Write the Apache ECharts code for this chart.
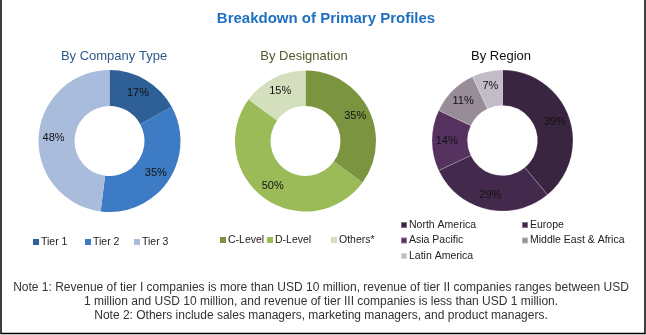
<!DOCTYPE html>
<html>
<head>
<meta charset="utf-8">
<script src="https://cdn.jsdelivr.net/npm/echarts@6/dist/echarts.min.js"></script>
<style>
  html, body { margin: 0; padding: 0; background: #ffffff; }
  #main { width: 646px; height: 335px; }
</style>
</head>
<body>
<div id="main"></div>
<script>
// data
var companyNames = ['Tier 1', 'Tier 2', 'Tier 3'];
var companyValues = [17, 35, 48];
var designationNames = ['C-Level', 'D-Level', 'Others*'];
var designationValues = [35, 50, 15];
var regionNames = ['North America', 'Europe', 'Asia Pacific', 'Middle East & Africa', 'Latin America'];
var regionValues = [39, 29, 14, 11, 7];

var companyColors = ['#2e5f97', '#3d7cc4', '#a9bcdc'];
var designationColors = ['#7a9440', '#9bbb59', '#d3dfbd'];
var regionColors = ['#3a2540', '#43294b', '#55325f', '#978c98', '#c2bcc6'];

var noteLines = [
  'Note 1: Revenue of tier I companies is more than USD 10 million, revenue of tier II companies ranges between USD',
  '1 million and USD 10 million, and revenue of tier III companies is less than USD 1 million.',
  'Note 2: Others include sales managers, marketing managers, and product managers.'
];

function pieData(names, values, colors) {
  var out = [];
  for (var i = 0; i < names.length; i++) {
    out.push({ name: names[i], value: values[i], itemStyle: { color: colors[i] } });
  }
  return out;
}

function legendItems(names, widths) {
  var out = [];
  for (var i = 0; i < names.length; i++) {
    var it = { name: names[i] };
    if (widths) it.textStyle = { width: widths[i] };
    out.push(it);
  }
  return out;
}

var labelStyle = {
  show: true,
  position: 'inside',
  formatter: '{c}%',
  color: '#111',
  fontSize: 11,
  fontFamily: 'Liberation Sans'
};

var legendText = { color: '#222', fontSize: 10.5, fontFamily: 'Liberation Sans', lineHeight: 12,
  padding: [0, 0, 0, -3] };

var chart = echarts.init(document.getElementById('main'));

var option = {
  animation: false,
  title: [
    { text: 'Breakdown of Primary Profiles', left: 321, top: 6, textAlign: 'center',
      textStyle: { color: '#1f70c1', fontSize: 15, fontWeight: 'bold', fontFamily: 'Liberation Sans' } },
    { text: 'By Company Type', left: 109, top: 45, textAlign: 'center',
      textStyle: { color: '#2f5a8a', fontSize: 13, fontWeight: 'normal', fontFamily: 'Liberation Sans' } },
    { text: 'By Designation', left: 299, top: 45, textAlign: 'center',
      textStyle: { color: '#4e5b2a', fontSize: 13, fontWeight: 'normal', fontFamily: 'Liberation Sans' } },
    { text: 'By Region', left: 496, top: 45, textAlign: 'center',
      textStyle: { color: '#111', fontSize: 13, fontWeight: 'normal', fontFamily: 'Liberation Sans' } }
  ],
  legend: [
    { left: 33, top: 236, padding: 0, itemGap: 0, itemWidth: 6, itemHeight: 6, icon: 'rect',
      selectedMode: false, textStyle: legendText,
      data: legendItems(companyNames, [44, 41, 40]) },
    { left: 220, top: 234, padding: 0, itemGap: 0, itemWidth: 6, itemHeight: 6, icon: 'rect',
      selectedMode: false, textStyle: legendText,
      data: legendItems(designationNames, [39, 56, 50]) },
    { left: 400, top: 219, padding: 0, orient: 'vertical', itemGap: 3.5, itemWidth: 6, itemHeight: 6, icon: 'rect',
      selectedMode: false, textStyle: legendText,
      data: legendItems([regionNames[0], regionNames[2], regionNames[4]]) },
    { left: 521, top: 219, padding: 0, orient: 'vertical', itemGap: 3.5, itemWidth: 6, itemHeight: 6, icon: 'rect',
      selectedMode: false, textStyle: legendText,
      data: legendItems([regionNames[1], regionNames[3]]) }
  ],
  series: [
    { type: 'pie', center: [109.5, 141], radius: [35, 71], startAngle: 90, clockwise: true,
      label: labelStyle, labelLine: { show: false }, silent: true,
      data: pieData(companyNames, companyValues, companyColors) },
    { type: 'pie', center: [305.5, 141], radius: [35, 70.5], startAngle: 90, clockwise: true,
      label: labelStyle, labelLine: { show: false }, silent: true,
      data: pieData(designationNames, designationValues, designationColors) },
    { type: 'pie', center: [502.5, 140.5], radius: [35, 70.5], startAngle: 90, clockwise: true,
      label: labelStyle, labelLine: { show: false }, silent: true,
      itemStyle: { borderColor: 'rgba(255,255,255,0.35)', borderWidth: 0.6 },
      data: pieData(regionNames, regionValues, regionColors) }
  ],
  graphic: [
    { type: 'polyline', silent: true,
      shape: { points: [[1, 0], [1, 333.5], [645, 333.5], [645, 0]] },
      style: { stroke: '#000', lineWidth: 1.5, fill: null } },
    { type: 'text', x: 321, y: 288, silent: true,
      style: { text: noteLines[0], textAlign: 'center', textVerticalAlign: 'middle',
        fill: '#333', fontSize: 12, fontFamily: 'Liberation Sans' } },
    { type: 'text', x: 321, y: 302, silent: true,
      style: { text: noteLines[1], textAlign: 'center', textVerticalAlign: 'middle',
        fill: '#333', fontSize: 12, fontFamily: 'Liberation Sans' } },
    { type: 'text', x: 321, y: 316, silent: true,
      style: { text: noteLines[2], textAlign: 'center', textVerticalAlign: 'middle',
        fill: '#333', fontSize: 12, fontFamily: 'Liberation Sans' } }
  ]
};

chart.setOption(option);
</script>
</body>
</html>
